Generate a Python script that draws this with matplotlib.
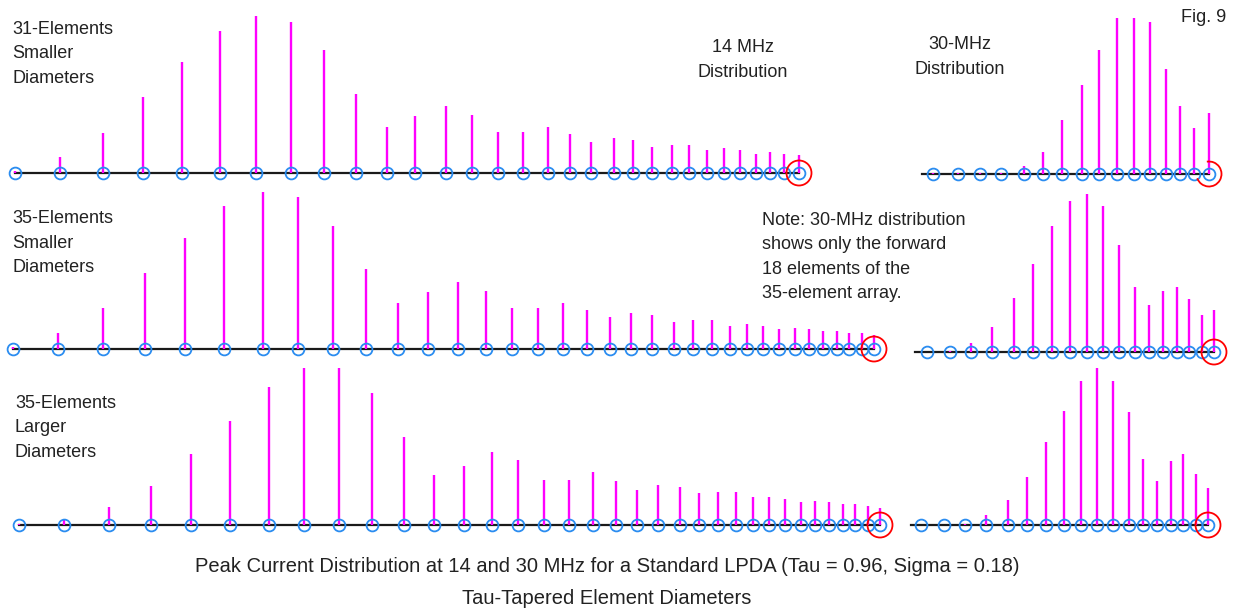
import matplotlib.pyplot as plt
from matplotlib.patches import Arc

plt.rcParams['font.family'] = ['Liberation Sans', 'DejaVu Sans']

W, H = 1237, 609

# element positions along the boom, rear element = 0
pos31 = [0, 45, 88, 128, 167, 205, 241, 276, 309, 341, 372, 400, 431, 457, 483,
         508, 533, 555, 576, 599, 618, 637, 657, 674, 692, 709, 725, 741, 755,
         769, 784]
pos35 = [0, 45, 90, 132, 172, 211, 250, 285, 320, 353, 385, 415, 445, 473, 499,
         525, 550, 574, 597, 618, 639, 661, 680, 699, 717, 734, 750, 766, 782,
         796, 810, 824, 836, 849, 861]

# relative peak current per element at 14 MHz
cur14_31 = [2, 16, 40, 76, 111, 142, 157, 151, 123, 79, 46, 57, 67, 58, 41,
            41, 46, 39, 31, 35, 33, 26, 28, 28, 23, 25, 23, 19, 21, 19, 18]
cur14_35s = [2, 16, 41, 76, 111, 143, 157, 152, 123, 80, 46, 57, 67, 58, 41,
             41, 46, 39, 32, 36, 34, 27, 29, 29, 23, 25, 23, 20, 21, 20, 18,
             18, 16, 16, 14]
cur14_35l = [1, 5, 18, 39, 71, 104, 138, 157, 157, 132, 88, 50, 59, 73, 65,
             45, 45, 53, 44, 35, 40, 38, 32, 33, 33, 28, 28, 26, 23, 24, 23,
             21, 21, 19, 17]

# 30 MHz, forward elements only
cur30_31 = [1, 1, 1, 1, 8, 22, 54, 89, 124, 156, 156, 152, 105, 68, 46, 61]
cur30_35s = [0, 1, 9, 25, 54, 88, 126, 151, 158, 146, 107, 65, 47, 61, 65,
             53, 37, 42]
cur30_35l = [0, 0, 1, 10, 25, 48, 83, 114, 144, 157, 144, 113, 66, 44, 64,
             71, 51, 37]

row_labels = ["31-Elements\nSmaller\nDiameters",
              "35-Elements\nSmaller\nDiameters",
              "35-Elements\nLarger\nDiameters"]

fig = plt.figure(figsize=(W / 100, H / 100), dpi=100)
fig.patch.set_facecolor('white')


def panel(x0, x1, origin, base, xs, cur, lead=0, arc=(0, 360)):
    # 1 data unit = 1 pixel, so the feed-point circle stays round
    ax = fig.add_axes([x0 / W, 1 - (base + 20) / H, (x1 - x0) / W, 190 / H])
    ax.set_xlim(x0 - origin, x1 - origin)
    ax.set_ylim(-20, 170)
    ax.axis('off')
    ax.plot([xs[0] - lead, xs[-1]], [0, 0], color='#1a1a1a', lw=1.6, zorder=1)
    ax.vlines(xs, 0, cur, color='#ff00ff', lw=1.7, zorder=2)
    ax.plot(xs, [0] * len(xs), 'o', mfc='none', mec='#2a8cf0', ms=8.5,
            mew=1.3, zorder=3)
    ax.add_patch(Arc((xs[-1], 0), 25, 25, theta1=arc[0], theta2=arc[1],
                     color='red', lw=1.3, zorder=4))
    return ax


def put(x, y, s, ha='left', size=13):
    fig.text(x / W, 1 - y / H, s, ha=ha, va='center', fontsize=size,
             color='#222222', linespacing=1.58)


# 14 MHz, full arrays
panel(0, 900, 15, 173, pos31, cur14_31)
panel(0, 900, 13, 349, pos35, cur14_35s)
panel(0, 900, 19, 525, pos35, cur14_35l)

# 30 MHz, forward part of each array
panel(900, W, 425, 174, pos31[-16:], cur30_31, lead=11, arc=(-160, 100))
panel(900, W, 353, 352, pos35[-18:], cur30_35s, lead=12)
panel(900, W, 347, 525, pos35[-18:], cur30_35l, lead=10)

put(12, 54, row_labels[0])
put(12, 243, row_labels[1])
put(15, 428, row_labels[2])

put(743, 60, "14 MHz\nDistribution", ha='center')
put(960, 57, "30-MHz\nDistribution", ha='center')
put(1204, 17, "Fig. 9", ha='center')
put(762, 257, "Note: 30-MHz distribution\nshows only the forward\n"
              "18 elements of the\n35-element array.")

put(607, 566, "Peak Current Distribution at 14 and 30 MHz for a Standard LPDA "
              "(Tau = 0.96, Sigma = 0.18)", ha='center', size=14.5)
put(607, 598, "Tau-Tapered Element Diameters", ha='center', size=14.5)

fig.savefig('out.png', dpi=100, facecolor='white')
